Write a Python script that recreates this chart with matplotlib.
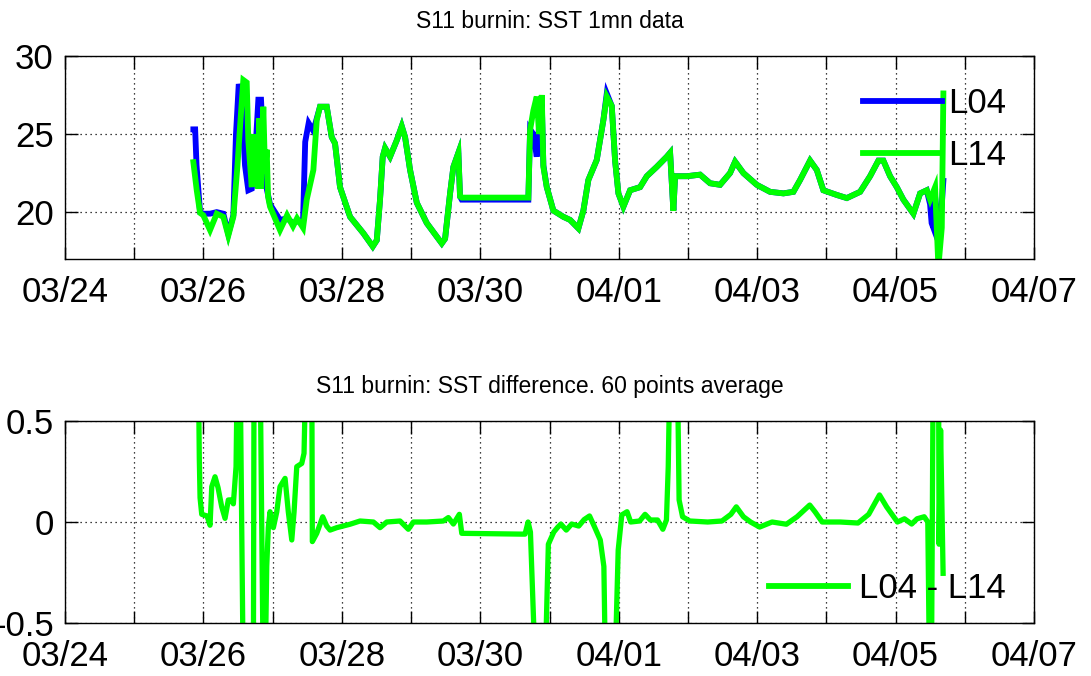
import numpy as np
import matplotlib
matplotlib.use("Agg")
import matplotlib.pyplot as plt
import matplotlib.dates as mdates
from matplotlib.ticker import FuncFormatter

# ---------------- data (time = days since 03/24 00:00) ----------------
base_date = np.datetime64("2011-03-24T00:00")

l14_days = [1.854, 1.903, 1.951, 1.998, 2.095, 2.192, 2.287, 2.359, 2.432, 2.490,
            2.529, 2.576, 2.625, 2.648, 2.698, 2.716, 2.745, 2.760, 2.793, 2.803,
            2.832, 2.865, 2.890, 2.914, 2.933, 2.962, 3.106, 3.208, 3.294, 3.352,
            3.439, 3.492, 3.588, 3.637, 3.684, 3.781, 3.853, 3.901, 3.973, 4.118,
            4.310, 4.446, 4.504, 4.551, 4.590, 4.624, 4.696, 4.793, 4.865, 4.913,
            4.985, 5.082, 5.226, 5.443, 5.491, 5.563, 5.611, 5.683, 5.707, 5.732,
            6.694, 6.719, 6.766, 6.815, 6.849, 6.888, 6.911, 6.960, 7.055, 7.200,
            7.297, 7.417, 7.489, 7.561, 7.682, 7.778, 7.827, 7.899, 7.947, 7.995,
            8.067, 8.164, 8.308, 8.405, 8.549, 8.694, 8.742, 8.789, 8.814, 8.983,
            9.175, 9.319, 9.464, 9.608, 9.681, 9.801, 9.994, 10.186, 10.379, 10.523,
            10.620, 10.764, 10.861, 10.956, 11.150, 11.295, 11.487, 11.631, 11.751, 11.823,
            11.920, 12.017, 12.112, 12.257, 12.354, 12.450, 12.498, 12.570, 12.618, 12.667,
            12.690]
l14_sst = [23.2, 21.4, 19.95, 19.8, 18.85, 19.9, 19.7, 18.5, 19.7, 22.9,
           25.5, 28.46, 28.3, 24.6, 21.6, 25.0, 22.0, 24.5, 21.5, 26.0,
           21.5, 26.75, 22.5, 24.0, 21.0, 20.35, 18.85, 19.8, 19.1, 19.6,
           19.0, 20.8, 22.7, 25.9, 26.75, 26.75, 24.8, 24.4, 21.6, 19.7,
           18.65, 17.8, 18.2, 20.8, 23.55, 24.1, 23.55, 24.6, 25.5, 24.8,
           22.7, 20.6, 19.3, 18.0, 18.3, 21.2, 22.9, 23.8, 21.0, 20.93,
           20.93, 25.26, 26.5, 27.4, 25.0, 27.5, 22.9, 21.6, 20.1, 19.7,
           19.5, 18.96, 20.1, 22.06, 23.34, 25.9, 27.4, 26.8, 23.3, 21.2,
           20.35, 21.4, 21.6, 22.3, 22.9, 23.55, 23.8, 20.1, 22.3, 22.3,
           22.4, 21.85, 21.75, 22.5, 23.23, 22.5, 21.75, 21.3, 21.2, 21.3,
           22.06, 23.3, 22.7, 21.4, 21.1, 20.9, 21.3, 22.3, 23.3, 23.3,
           22.3, 21.6, 20.8, 19.9, 21.2, 21.4, 20.8, 21.6, 16.5, 19.0,
           27.6]

l04_days = [1.854, 1.880, 1.900, 1.951, 1.998, 2.095, 2.192, 2.287, 2.359, 2.432,
            2.470, 2.510, 2.550, 2.600, 2.648, 2.698, 2.745, 2.793, 2.832, 2.865,
            2.914, 2.962, 3.106, 3.208, 3.294, 3.352, 3.439, 3.470, 3.520, 3.588,
            3.637, 3.684, 3.781, 3.853, 3.901, 3.973, 4.118, 4.310, 4.446, 4.504,
            4.551, 4.590, 4.624, 4.696, 4.793, 4.865, 4.913, 4.985, 5.082, 5.226,
            5.443, 5.491, 5.563, 5.611, 5.683, 5.707, 5.732, 6.694, 6.719, 6.766,
            6.815, 6.849, 6.888, 6.911, 6.960, 7.055, 7.200, 7.297, 7.417, 7.489,
            7.561, 7.682, 7.778, 7.827, 7.899, 7.947, 7.995, 8.067, 8.164, 8.308,
            8.405, 8.549, 8.694, 8.742, 8.789, 8.814, 8.983, 9.175, 9.319, 9.464,
            9.608, 9.681, 9.801, 9.994, 10.186, 10.379, 10.523, 10.620, 10.764, 10.861,
            10.956, 11.150, 11.295, 11.487, 11.631, 11.751, 11.823, 11.920, 12.017, 12.112,
            12.257, 12.354, 12.450, 12.498, 12.520, 12.545, 12.570, 12.618, 12.667, 12.690]
l04_sst = [25.3, 25.3, 23.0, 20.0, 19.9, 19.9, 20.0, 19.9, 18.6, 19.8,
           25.0, 28.2, 27.5, 23.0, 21.4, 21.5, 23.5, 27.2, 27.2, 24.0,
           21.5, 20.5, 19.5, 19.6, 19.3, 19.4, 19.5, 24.5, 25.7, 25.2,
           26.0, 26.75, 26.75, 24.8, 24.4, 21.6, 19.7, 18.65, 17.8, 18.2,
           20.8, 23.55, 24.1, 23.55, 24.6, 25.5, 24.8, 22.7, 20.6, 19.3,
           18.0, 18.3, 21.2, 22.9, 23.8, 21.0, 20.8, 20.8, 25.3, 25.0,
           23.55, 25.5, 27.0, 23.0, 21.6, 20.1, 19.7, 19.5, 18.96, 20.1,
           22.06, 23.34, 25.9, 27.6, 26.8, 23.3, 21.2, 20.35, 21.4, 21.6,
           22.3, 22.9, 23.55, 23.8, 20.1, 22.3, 22.3, 22.4, 21.85, 21.75,
           22.5, 23.23, 22.5, 21.75, 21.3, 21.2, 21.3, 22.06, 23.3, 22.7,
           21.4, 21.1, 20.9, 21.3, 22.3, 23.3, 23.3, 22.3, 21.6, 20.8,
           19.9, 21.2, 21.4, 20.5, 19.3, 19.0, 21.0, 19.0, 20.5, 22.0]

diff_days = [1.926, 1.940, 1.951, 1.975, 2.052, 2.095, 2.120, 2.167, 2.211, 2.264,
             2.312, 2.359, 2.409, 2.432, 2.471, 2.490, 2.529, 2.553, 2.576, 2.721,
             2.731, 2.818, 2.865, 2.890, 2.914, 2.937, 2.962, 3.010, 3.059, 3.106,
             3.179, 3.226, 3.276, 3.309, 3.348, 3.420, 3.453, 3.482, 3.565, 3.573,
             3.637, 3.723, 3.781, 3.829, 3.926, 4.118, 4.262, 4.455, 4.551, 4.648,
             4.840, 4.960, 5.033, 5.226, 5.466, 5.538, 5.611, 5.697, 5.732, 6.599,
             6.646, 6.690, 6.724, 6.802, 6.931, 6.983, 7.061, 7.113, 7.164, 7.242,
             7.320, 7.422, 7.500, 7.578, 7.655, 7.733, 7.785, 7.811, 7.940, 7.992,
             8.044, 8.120, 8.172, 8.302, 8.380, 8.457, 8.561, 8.637, 8.689, 8.715,
             8.741, 8.846, 8.872, 8.922, 9.026, 9.285, 9.491, 9.620, 9.698, 9.802,
             9.905, 10.035, 10.215, 10.422, 10.576, 10.759, 10.837, 10.939, 11.198, 11.456,
             11.611, 11.767, 11.870, 12.026, 12.128, 12.232, 12.310, 12.413, 12.465, 12.491,
             12.517, 12.543, 12.620, 12.628, 12.650, 12.686]
diff_val = [0.8, 0.315, 0.12, 0.038, 0.03, -0.016, 0.175, 0.224, 0.17, 0.075,
            0.018, 0.109, 0.11, 0.09, 0.274, 0.8, 0.8, -0.028, -0.8, -0.8,
            0.8, 0.8, -0.8, -0.8, -0.22, -0.028, 0.051, -0.028, 0.05, 0.175,
            0.216, 0.05, -0.089, 0.05, 0.274, 0.29, 0.34, 0.8, 0.8, -0.097,
            -0.056, 0.026, -0.02, -0.04, -0.028, -0.011, 0.005, 0.0, -0.028, 0.0,
            0.005, -0.036, 0.0, 0.0, 0.005, 0.022, -0.01, 0.038, -0.056, -0.06,
            -0.06, 0.0, -0.05, -0.8, -0.8, -0.11, -0.05, -0.028, -0.01, -0.04,
            -0.01, -0.02, 0.012, 0.03, -0.028, -0.089, -0.22, -0.8, -0.8, -0.139,
            0.035, 0.051, 0.0, 0.005, 0.038, 0.01, 0.01, -0.036, 0.01, 0.274,
            0.8, 0.8, 0.109, 0.026, 0.005, 0.0, 0.005, 0.038, 0.075, 0.026,
            0.0, -0.025, 0.0, -0.011, 0.026, 0.084, 0.05, 0.0, 0.0, -0.005,
            0.038, 0.134, 0.075, 0.0, 0.016, -0.01, 0.016, 0.026, 0.0, -0.8,
            -0.8, 0.8, 0.8, -0.11, 0.455, -0.254]

top_title = "S11 burnin: SST 1mn data"
bottom_title = "S11 burnin: SST difference. 60 points average"
legend_top = ["L04", "L14"]
legend_bottom = ["L04 - L14"]
top_yticks = [20, 25, 30]
bottom_yticks = [-0.5, 0, 0.5]
n_days = 14


def to_time(days):
    return base_date + (np.asarray(days) * 86400).astype("timedelta64[s]")


plt.rcParams["font.family"] = ["Liberation Sans", "DejaVu Sans"]

fig = plt.figure(figsize=(10.91, 6.76), dpi=100)
ax1 = fig.add_axes([0.0596, 0.6169, 0.8882, 0.3003])
ax2 = fig.add_axes([0.0596, 0.0784, 0.8882, 0.2988])

xmin = base_date
xmax = base_date + np.timedelta64(n_days, "D")


def style(ax):
    ax.set_xlim(mdates.date2num(xmin), mdates.date2num(xmax))
    ax.xaxis.set_major_locator(mdates.DayLocator(interval=1))
    start = mdates.date2num(xmin)

    def fmt(x, pos):
        k = int(round(x - start))
        if k % 2 == 0:
            return mdates.num2date(x).strftime("%m/%d")
        return ""

    ax.xaxis.set_major_formatter(FuncFormatter(fmt))
    ax.tick_params(direction="in", length=9, width=1.0, top=True, right=True,
                   labelsize=25, pad=12, colors="black")
    ax.tick_params(axis="y", pad=8)
    ax.grid(True, color="black", linestyle=(0, (1, 3)), linewidth=0.9)
    for s in ax.spines.values():
        s.set_linewidth(1.0)
        s.set_color("black")


ax1.plot(to_time(l04_days), l04_sst, color="#0000ff", lw=4.2, label=legend_top[0],
         solid_joinstyle="miter")
ax1.plot(to_time(l14_days), l14_sst, color="#00ff00", lw=4.2, label=legend_top[1],
         solid_joinstyle="miter")
ax1.set_ylim(17, 30)
ax1.set_yticks(top_yticks)
style(ax1)
ax1.set_title(top_title, fontsize=16.5, pad=20)
leg1 = ax1.legend(loc="upper right", bbox_to_anchor=(0.985, 0.915), frameon=False,
                  fontsize=25, handlelength=2.3, handletextpad=0.15,
                  labelspacing=0.55, borderaxespad=0.0)
for h in leg1.get_lines():
    h.set_linewidth(4.2)

ax2.plot(to_time(diff_days), diff_val, color="#00ff00", lw=3.8, label=legend_bottom[0])
ax2.set_ylim(-0.5, 0.5)
ax2.set_yticks(bottom_yticks)
ax2.yaxis.set_major_formatter(FuncFormatter(lambda v, p: f"{v:g}"))
style(ax2)
ax2.tick_params(axis="x", pad=12)
ax2.set_title(bottom_title, fontsize=16.5, pad=20)
leg2 = ax2.legend(loc="lower right", bbox_to_anchor=(0.985, 0.02), frameon=False,
                  fontsize=25, handlelength=2.3, handletextpad=0.3,
                  borderaxespad=0.0)
for h in leg2.get_lines():
    h.set_linewidth(4.2)

fig.savefig("out.png", dpi=100)
